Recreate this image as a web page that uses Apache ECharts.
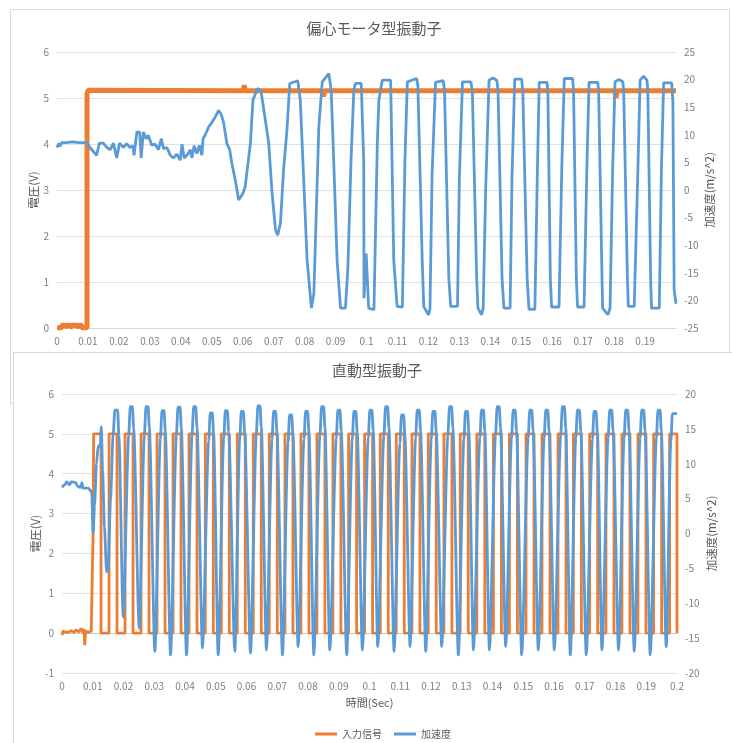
<!DOCTYPE html>
<html>
<head>
<meta charset="utf-8">
<script src="https://cdn.jsdelivr.net/npm/echarts@6/dist/echarts.min.js"></script>
<style>
  html, body { margin: 0; padding: 0; background: #fff; }
  #chart { width: 732px; height: 743px; }
</style>
</head>
<body>
<div id="chart"></div>
<script>
// 上段：偏心モータ型振動子  [時間(s), 値]
const topInput = [
  [0, 0], [0.0015, 0], [0.0015, 0.06], [0.0026, 0.06], [0.0026, 0], [0.0031, 0], [0.0031, 0.06],
  [0.0042, 0.06], [0.0042, 0], [0.0048, 0], [0.0048, 0.06], [0.0064, 0.06], [0.0064, 0],
  [0.0069, 0], [0.0069, 0.06], [0.0080, 0.06], [0.0080, 0], [0.0097, 0], [0.0097, 5.1],
  [0.0101, 5.17], [0.0603, 5.16], [0.0605, 5.28], [0.0608, 5.16], [0.0858, 5.16], [0.0861, 5.03],
  [0.0864, 5.16], [0.1803, 5.16], [0.1806, 5.0], [0.1809, 5.16], [0.2, 5.16]
]
const topAccel = [
  [0, 7.7], [0.0005, 8.4], [0.001, 7.9], [0.0015, 8.6], [0.003, 8.6], [0.005, 8.7], [0.007, 8.6],
  [0.0096, 8.6], [0.0106, 7.7], [0.0112, 7.5], [0.0128, 6.3], [0.0137, 8.5], [0.0150, 8.5],
  [0.0161, 7.7], [0.0172, 7.3], [0.0182, 8.5], [0.0193, 5.8], [0.0202, 8.5], [0.0215, 7.7],
  [0.0225, 8.4], [0.0236, 7.7], [0.0245, 8.0], [0.0249, 6.3], [0.0258, 10.5], [0.0267, 10.5],
  [0.0272, 5.8], [0.0279, 10.5], [0.0288, 9.3], [0.0295, 9.9], [0.0306, 8.1], [0.0317, 8.3],
  [0.0328, 7.3], [0.0337, 9.3], [0.0344, 7.5], [0.0355, 7.7], [0.0366, 6.3], [0.0376, 5.8],
  [0.0387, 6.5], [0.0398, 5.4], [0.0404, 8.3], [0.0411, 5.8], [0.0420, 6.3], [0.0431, 7.3],
  [0.0436, 5.8], [0.0443, 8.0], [0.0452, 6.6], [0.0460, 8.1], [0.0468, 6.3], [0.0472, 9.3],
  [0.0479, 10.0], [0.0490, 11.4], [0.0501, 12.3], [0.0511, 13.2], [0.0522, 14.4], [0.0530, 13.8],
  [0.0538, 12.3], [0.0549, 8.4], [0.0558, 7.3], [0.0565, 4.8], [0.0576, 1.8], [0.0587, -1.8],
  [0.0592, -1.8], [0.0601, -0.6], [0.0608, 0.6], [0.0625, 8.5], [0.0633, 16.3], [0.0648, 18.4],
  [0.0659, 18.0], [0.0673, 12.7], [0.0684, 8.5], [0.0695, -0.6], [0.0706, -7.2], [0.0713, -8.2],
  [0.0722, -6.0], [0.0732, 3.6], [0.0743, 10.9], [0.0752, 19.3], [0.0778, 19.8], [0.0786, 16.3],
  [0.0799, -0.6], [0.0808, -12.7], [0.0822, -21.4], [0.0830, -18.7], [0.0838, -3.6], [0.0846, 11.5],
  [0.0857, 19.6], [0.0878, 21.1], [0.0886, 18.1], [0.0894, 5.4], [0.0905, -12.7], [0.0916, -21.4],
  [0.0932, -21.4], [0.0940, -13.9], [0.0950, 5.4], [0.0959, 18.1], [0.0964, 19.3], [0.0983, 19.3],
  [0.0991, 5.4], [0.0992, -19.6], [0.0999, -11.5], [0.1007, -21.4], [0.1024, -21.7], [0.1035, 8.5],
  [0.1040, 16.3], [0.1051, 19.9], [0.1078, 19.9], [0.1088, -12.7], [0.1099, -21.1],
  [0.1116, -21.2], [0.1124, 5], [0.1132, 19.6], [0.1162, 20.2], [0.1166, 19], [0.1180, -12.7],
  [0.1185, -21.1], [0.1200, -22.6], [0.1205, -21.6], [0.1212, 3], [0.1223, 19.5], [0.1248, 19.8],
  [0.1252, 18], [0.1266, -16], [0.1272, -21.1], [0.1294, -21.1], [0.1300, 2], [0.1310, 19.6],
  [0.1337, 19.6], [0.1342, 18], [0.1356, -16], [0.1360, -21.4], [0.1372, -22.6], [0.1377, -21.4],
  [0.1385, 0], [0.1396, 19.9], [0.1408, 20.3], [0.1421, 19.9], [0.1425, 18], [0.1438, -16],
  [0.1444, -21.4], [0.1464, -21.4], [0.1470, 2], [0.1479, 20.1], [0.1501, 20.1], [0.1505, 18],
  [0.1519, -16], [0.1525, -21.6], [0.1544, -21.6], [0.1552, 3], [0.1558, 19.5], [0.1583, 19.5],
  [0.1586, 18], [0.1594, -16], [0.1598, -21.2], [0.1622, -21.2], [0.1631, 4], [0.1639, 20.2],
  [0.1666, 20.2], [0.1669, 18], [0.1678, -16], [0.1682, -21.2], [0.1703, -21.2], [0.1712, 4],
  [0.1719, 19.5], [0.1747, 19.5], [0.1750, 18], [0.1761, -16], [0.1763, -21.4], [0.1780, -22.6],
  [0.1787, -21.4], [0.1795, 3], [0.1803, 19.6], [0.1815, 20.0], [0.1828, 19.6], [0.1831, 18],
  [0.1843, -16], [0.1846, -21.1], [0.1865, -21.1], [0.1877, 4], [0.1884, 19.9], [0.1895, 20.6],
  [0.1906, 19.9], [0.1909, 18], [0.1918, -16], [0.1921, -21.4], [0.1946, -21.4], [0.1953, 4],
  [0.1960, 19.4], [0.1986, 19.4], [0.1990, 16], [0.1994, -18.1], [0.2, -20.6]
]

// 下段：直動型振動子
const botInputStart = [
  [0, -0.05], [0.0003, 0.05], [0.001, 0.03], [0.0015, 0.08], [0.002, 0.02], [0.003, 0.06],
  [0.004, 0.02], [0.0045, 0.08], [0.0055, 0.03], [0.0062, 0.12], [0.0068, 0.02], [0.0072, 0.1],
  [0.0074, -0.3], [0.0077, 0.05], [0.0085, 0.02], [0.0095, 0.05], [0.0101, 0.05], [0.0101, 2.47],
  [0.0103, 5.0]
]
const botInputFall = [
  0.0127, 0.0179, 0.0231, 0.0283, 0.0335, 0.0387, 0.0439, 0.0492, 0.0544, 0.0596, 0.0648, 0.0700,
  0.0751, 0.0803, 0.0855, 0.0907, 0.0958, 0.1010, 0.1061, 0.1113, 0.1164, 0.1217, 0.1268, 0.1321,
  0.1375, 0.1429, 0.1481, 0.1535, 0.1587, 0.1639, 0.1689, 0.1742, 0.1795, 0.1847, 0.1899, 0.1950, 0.2
]
const botInputRise = [
  0.0153, 0.0205, 0.0257, 0.0309, 0.0361, 0.0413, 0.0466, 0.0518, 0.0570, 0.0622, 0.0674, 0.0725,
  0.0777, 0.0829, 0.0881, 0.0932, 0.0984, 0.1035, 0.1087, 0.1138, 0.1191, 0.1242, 0.1295, 0.1349,
  0.1403, 0.1455, 0.1509, 0.1561, 0.1613, 0.1663, 0.1716, 0.1769, 0.1821, 0.1873, 0.1924, 0.1976
]
const botInputHigh = 5.0
const botInputLow = 0

const botAccel = [
  [0, 6.6], [0.001, 7.0], [0.0015, 7.4], [0.0025, 7.0], [0.003, 7.4], [0.0045, 7.3], [0.005, 6.8],
  [0.006, 6.6], [0.0065, 7.3], [0.0068, 6.5], [0.0085, 6.5], [0.0092, 6.2], [0.0097, 5.8],
  [0.0101, 0.0], [0.0106, 4.0], [0.0112, 10.0], [0.0118, 12.6], [0.0124, 12.4], [0.0128, 15.3],
  [0.0132, 9.0], [0.0138, 1.0], [0.0145, -5.5], [0.0150, -5.0], [0.0158, 5.0], [0.0166, 14.0],
  [0.0172, 17.7], [0.0181, 17.7], [0.0185, 14.0], [0.0199, -12.0],
  [0.0217, 14.2], [0.0222, 18.2], [0.0229, 18.2], [0.0233, 15.2], [0.0251, -13.6],
  [0.0268, 14.2], [0.0273, 18.2], [0.0280, 18.2], [0.0284, 15.2], [0.0302, -16.9],
  [0.0320, 13.6], [0.0325, 17.6], [0.0332, 17.6], [0.0336, 14.6], [0.0353, -17.4],
  [0.0372, 14.1], [0.0377, 18.1], [0.0384, 18.1], [0.0388, 15.1], [0.0405, -17.4],
  [0.0423, 14.2], [0.0428, 18.2], [0.0435, 18.2], [0.0439, 15.2], [0.0457, -16.4],
  [0.0477, 13.3], [0.0482, 17.3], [0.0489, 17.3], [0.0493, 14.3], [0.0508, -17.4],
  [0.0526, 13.6], [0.0531, 17.6], [0.0538, 17.6], [0.0542, 14.6], [0.0562, -16.9],
  [0.0578, 13.5], [0.0583, 17.5], [0.0590, 17.5], [0.0594, 14.5], [0.0613, -17.1],
  [0.0632, 14.3], [0.0637, 18.3], [0.0644, 18.3], [0.0648, 15.3], [0.0665, -16.7],
  [0.0683, 13.5], [0.0688, 17.5], [0.0695, 17.5], [0.0699, 14.5], [0.0717, -17.4],
  [0.0735, 13.0], [0.0740, 17.0], [0.0747, 17.0], [0.0751, 14.0], [0.0768, -16.2],
  [0.0787, 13.5], [0.0792, 17.5], [0.0799, 17.5], [0.0803, 14.5], [0.0819, -17.4],
  [0.0839, 14.2], [0.0844, 18.2], [0.0851, 18.2], [0.0855, 15.2], [0.0871, -16.7],
  [0.0892, 13.7], [0.0897, 17.7], [0.0904, 17.7], [0.0908, 14.7], [0.0926, -17.4],
  [0.0944, 13.5], [0.0949, 17.5], [0.0956, 17.5], [0.0960, 14.5], [0.0977, -16.7],
  [0.0996, 13.7], [0.1001, 17.7], [0.1008, 17.7], [0.1012, 14.7], [0.1027, -16.2],
  [0.1047, 14.2], [0.1052, 18.2], [0.1059, 18.2], [0.1063, 15.2], [0.1080, -16.9],
  [0.1099, 13.0], [0.1104, 17.0], [0.1111, 17.0], [0.1115, 14.0], [0.1132, -16.2],
  [0.1150, 13.7], [0.1155, 17.7], [0.1162, 17.7], [0.1166, 14.7], [0.1183, -16.9],
  [0.1201, 13.5], [0.1206, 17.5], [0.1213, 17.5], [0.1217, 14.5], [0.1235, -16.2],
  [0.1255, 14.2], [0.1260, 18.2], [0.1267, 18.2], [0.1271, 15.2], [0.1289, -17.4],
  [0.1307, 13.5], [0.1312, 17.5], [0.1319, 17.5], [0.1323, 14.5], [0.1338, -16.7],
  [0.1359, 13.7], [0.1364, 17.7], [0.1371, 17.7], [0.1375, 14.7], [0.1390, -16.7],
  [0.1410, 14.2], [0.1415, 18.2], [0.1422, 18.2], [0.1426, 15.2], [0.1443, -16.2],
  [0.1462, 13.7], [0.1467, 17.7], [0.1474, 17.7], [0.1478, 14.7], [0.1495, -17.4],
  [0.1516, 13.7], [0.1521, 17.7], [0.1528, 17.7], [0.1532, 14.7], [0.1549, -16.7],
  [0.1568, 13.7], [0.1573, 17.7], [0.1580, 17.7], [0.1584, 14.7], [0.1601, -16.7],
  [0.1622, 14.2], [0.1627, 18.2], [0.1634, 18.2], [0.1638, 15.2], [0.1653, -17.4],
  [0.1671, 13.7], [0.1676, 17.7], [0.1683, 17.7], [0.1687, 14.7], [0.1705, -17.4],
  [0.1725, 13.5], [0.1730, 17.5], [0.1737, 17.5], [0.1741, 14.5], [0.1756, -16.7],
  [0.1776, 13.7], [0.1781, 17.7], [0.1788, 17.7], [0.1792, 14.7], [0.1810, -16.7],
  [0.1828, 13.7], [0.1833, 17.7], [0.1840, 17.7], [0.1844, 14.7], [0.1861, -16.9],
  [0.1880, 13.7], [0.1885, 17.7], [0.1892, 17.7], [0.1896, 14.7], [0.1913, -17.4],
  [0.1933, 13.7], [0.1938, 17.7], [0.1945, 17.7], [0.1949, 14.7], [0.1965, -16.2],
  [0.1980, 13.2], [0.1985, 17.2], [0.2, 17.2]
]

const titles = ['偏心モータ型振動子', '直動型振動子']
const seriesNames = ['入力信号', '加速度']

// 入力信号（矩形波）を立ち上がり・立ち下がり時刻から組み立てる
const botInput = botInputStart.slice()
botInputFall.forEach((f, i) => {
  botInput.push([f, botInputHigh], [f, botInputLow])
  if (i < botInputRise.length) {
    botInput.push([botInputRise[i], botInputLow], [botInputRise[i], botInputHigh])
  }
})

const ORANGE = '#ED7D31'
const BLUE = '#5B9BD5'
const LABEL = '#7f7f7f'
const GRID = '#e1e1e1'
const FONT = '"Noto Sans CJK JP", sans-serif'

const chart = echarts.init(document.getElementById('chart'), null, { renderer: 'canvas' })

function xAxisOf(gridIndex, extra) {
  return Object.assign({
    gridIndex: gridIndex,
    type: 'value',
    min: 0,
    max: 0.2,
    interval: 0.01,
    axisLine: { show: true, lineStyle: { color: '#d9d9d9', width: 1 } },
    axisTick: { show: false },
    splitLine: { show: false },
    axisLabel: {
      color: LABEL,
      fontSize: 10,
      margin: 8,
      formatter: (v) => String(+v.toFixed(2))
    }
  }, extra)
}

function yAxisOf(gridIndex, position, min, max, interval, name, nameGap, extra) {
  return Object.assign({
    gridIndex: gridIndex,
    type: 'value',
    position: position,
    min: min,
    max: max,
    interval: interval,
    name: name,
    nameLocation: 'middle',
    nameRotate: 90,
    nameGap: nameGap,
    nameMoveOverlap: false,
    nameTextStyle: { color: '#595959', fontSize: 11.5 },
    axisLine: { show: false },
    axisTick: { show: false },
    axisLabel: { color: LABEL, fontSize: 10, margin: 8 },
    splitLine: { show: false }
  }, extra)
}

const option = {
  animation: false,
  backgroundColor: '#ffffff',
  textStyle: { fontFamily: FONT },
  graphic: [
    {
      type: 'rect', z: -10,
      shape: { x: 10.5, y: 9.5, width: 719, height: 394 },
      style: { fill: '#ffffff', stroke: '#d9d9d9', lineWidth: 1 }
    },
    {
      type: 'rect', z: -9,
      shape: { x: 13.5, y: 352.5, width: 730, height: 400 },
      style: { fill: '#ffffff', stroke: '#d9d9d9', lineWidth: 1 }
    }
  ],
  title: [
    {
      text: titles[0], left: 369, top: 16, textAlign: 'center',
      textStyle: { color: '#595959', fontSize: 15, fontWeight: 'normal', fontFamily: FONT }
    },
    {
      text: titles[1], left: 372, top: 358, textAlign: 'center',
      textStyle: { color: '#595959', fontSize: 15, fontWeight: 'normal', fontFamily: FONT }
    }
  ],
  legend: {
    data: seriesNames,
    left: 310,
    top: 724,
    icon: 'rect',
    itemWidth: 22,
    itemHeight: 3,
    itemGap: 12,
    textStyle: { color: '#595959', fontSize: 10 }
  },
  grid: [
    { left: 57, right: 56, top: 52, height: 276 },
    { left: 62, right: 55, top: 394, height: 279 }
  ],
  xAxis: [
    xAxisOf(0, { axisLabel: { color: LABEL, fontSize: 10, margin: 8, showMaxLabel: false, formatter: (v) => String(+v.toFixed(2)) } }),
    xAxisOf(1, {
      axisLine: { show: false },
      name: '時間(Sec)',
      nameLocation: 'middle',
      nameGap: 24,
      nameMoveOverlap: false,
      nameTextStyle: { color: '#595959', fontSize: 11 }
    })
  ],
  yAxis: [
    yAxisOf(0, 'left', 0, 6, 1, '電圧(V)', 18, { splitLine: { show: true, lineStyle: { color: GRID } } }),
    yAxisOf(0, 'right', -25, 25, 5, '加速度(m/s^2)', 28),
    yAxisOf(1, 'left', -1, 6, 1, '電圧(V)', 21, {
      splitLine: {
        show: true,
        lineStyle: { color: [GRID, '#c4c4c4', GRID, GRID, GRID, GRID, GRID, GRID], width: 1 }
      }
    }),
    yAxisOf(1, 'right', -20, 20, 5, '加速度(m/s^2)', 29)
  ],
  series: [
    {
      name: seriesNames[0], type: 'line', xAxisIndex: 0, yAxisIndex: 0,
      data: topInput, showSymbol: false, color: ORANGE,
      lineStyle: { color: ORANGE, width: 5 }
    },
    {
      name: seriesNames[1], type: 'line', xAxisIndex: 0, yAxisIndex: 1,
      data: topAccel, showSymbol: false, color: BLUE,
      lineStyle: { color: BLUE, width: 2.8 }
    },
    {
      name: seriesNames[0], type: 'line', xAxisIndex: 1, yAxisIndex: 2,
      data: botInput, showSymbol: false, color: ORANGE,
      lineStyle: { color: ORANGE, width: 2.8 }
    },
    {
      name: seriesNames[1], type: 'line', xAxisIndex: 1, yAxisIndex: 3,
      data: botAccel, showSymbol: false, color: BLUE,
      smooth: 0.25, smoothMonotone: 'x',
      lineStyle: { color: BLUE, width: 2.8 }
    }
  ]
}

chart.setOption(option)
window.addEventListener('resize', () => chart.resize())
</script>
</body>
</html>
